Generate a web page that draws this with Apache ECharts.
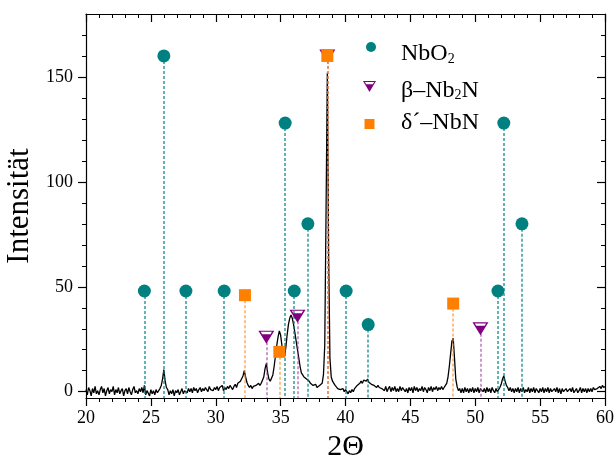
<!DOCTYPE html>
<html><head><meta charset="utf-8">
<script src="https://cdn.jsdelivr.net/npm/echarts@6/dist/echarts.min.js"></script>
<style>html,body{margin:0;padding:0;background:#fff}#c{width:614px;height:459px}</style>
</head><body><div id="c"></div><script>
// ---- data ----
const angleStart = 20;
const angleStep = 0.1;
const intensity = [
  1, -1.5, 2, 0.5, -2, 1.5, -0.5, 2.5, -1, 0.5,
  -1.5, 1, 2.5, -0.5, 1.5, -2, 0.5, 2, -1, 1,
  0, 2.5, -1.5, 1, -0.5, 2, -1, 0.5, 1.5, -2,
  0.5, 1.5, -1, 2, 0, -1.5, 1, 2.5, -0.5, 0.5,
  -1, 1.5, 0, 2, -0.5, 3, -1.5, 0.5, 1, -2,
  1, -1, 0.5, -1.5, 1, -0.5, 0, 1.5, 3, 6,
  10.5, 5, 2, 1, -1.5, 0.5, -1, 1, -2, 0.5,
  -0.5, 1, -1.5, 0, 1.5, -1, 0.5, 1, -0.5, 1.5,
  0, 1.5, -0.5, 2, 0.5, 1.5, -0.5, 1, 2, 0,
  1.5, 0.5, 2, 1, 0, 2.5, 1, 1.5, 0.5, 2,
  1, 2.5, 0.5, 2, 1.5, 3, 0.5, 2, 1, 2.5,
  1.5, 3, 2, 1, 2.5, 3.5, 2, 4, 4.5, 5,
  5.5, 7.5, 10, 7, 4.5, 3, 2, 3, 1.5, 2.5,
  2, 3, 2.5, 4, 3, 4, 5.5, 7, 11, 13.5,
  9, 6, 5, 5.5, 8, 12, 17, 22, 26, 29,
  27, 22, 18, 17, 21, 27, 32, 35, 36.5, 35,
  32, 28, 24, 20, 16, 12, 9, 8, 7, 7.5,
  6, 6.5, 5, 4, 4.5, 3, 2.5, 3.5, 2, 2.5,
  3, 2.5, 4, 8, 22, 85, 152, 65, 16, 7,
  5, 4, 3, 2.5, 1.5, 2, 1, 0.5, 1.5, 0,
  1, 0, -1, 0.5, -0.5, 1, 0, 1.5, 2, 3,
  2.5, 4, 5, 4, 5.5, 6, 5, 6, 4.5, 5,
  3.5, 4, 3, 3.5, 2, 3, 2, 2.5, 1.5, 2,
  0.5, 2.5, 0, 1.5, 2.5, 0, 2, 0.5, 2.5, 0,
  1.5, 0, 2.5, 0.5, 2, 2.5, 0, 1.5, -0.5, 2,
  0.5, 2, -0.5, 2.5, 0.5, 2, 0, 1.5, 0.5, 2.5,
  0, 2, 1, -0.5, 2, 0.5, 2.5, 0, 2, 1,
  2.5, 0.5, 2, 1, 2.5, 1, 2, 3, 4, 7,
  12, 18, 24, 25.5, 16, 6, 2.5, 0.5, 1.5, -0.5,
  1.5, -0.5, 2, 0, 1.5, -0.5, 1.5, 0, 2, -0.5,
  1.5, 0, 2, -0.5, 1.5, 2, 0, 1.5, -0.5, 2,
  0, 1.5, -0.5, 2, 0.5, -0.5, 1.5, 0, 1, 2,
  3.5, 6, 7.5, 5, 3, 2, 0.5, 2, 0, 1.5,
  -0.5, 1.5, 0, 2, -0.5, 1.5, 0, 2, -0.5, 1,
  0, 2, -0.5, 1.5, 0, 2, -0.5, 1.5, 0.5, -0.5,
  1.5, 0, 2, -0.5, 1.5, 0, 2, -0.5, 1.5, 0,
  -0.5, 1.5, 0, 2, -0.5, 1.5, -1, 1.5, 0, -0.5,
  1.5, 0, -0.5, 1.5, 0, 2, -0.5, 0.5, 1.5, -0.5,
  0.5, 2, -0.5, 1.5, 0, 1.5, -0.5, 1.5, 0, 1.5,
  0, 2, 1, 0.5, 1.5, 2, 2.5, 1.5, 3, 2,
  2.5
];
const nbo2X = [24.5, 26.0, 27.7, 30.65, 35.35, 36.05, 37.1, 40.05, 41.75, 51.75, 52.2, 53.6];
const nbo2Y = [48, 160, 48, 48, 128, 48, 80, 48, 32, 48, 128, 80];
const nb2nX = [33.9, 36.3, 38.6, 50.4];
const nb2nY = [26, 36, 160, 30];
const nbnX = [32.25, 34.9, 38.6, 48.3];
const nbnY = [46, 19, 160, 42];
const xTicks = [20, 25, 30, 35, 40, 45, 50, 55, 60];
const yMajor = [0, 50, 100, 150];
const yMinor = [10, 20, 30, 40, 60, 70, 80, 90, 110, 120, 130, 140, 160, 170];

// ---- chart ----
const FONT = "'Liberation Serif','Times New Roman',serif";
const yMin = -3, yMax = 180;
const trace = intensity.map((v, i) => [+(angleStart + i * angleStep).toFixed(2), v]);
const pair = (xs, ys) => xs.map((x, i) => [x, ys[i]]);
const drops = (xs, ys) => xs.map((x, i) => [{coord: [x, ys[i]]}, {coord: [x, yMin]}]);
const TRI = 'path://M0,0L10,0L5,9Z M1.5,0.8L2.4,2.5L7.6,2.5L8.5,0.8Z';
const axisLineStyle = {color: '#000', width: 1.2};

function markerSeries(name, xs, ys, symbol, size, color, lineColor) {
  return {
    name, type: 'scatter', data: pair(xs, ys), symbol, symbolSize: size,
    itemStyle: {color, opacity: 1}, z: 10, silent: true, animation: false,
    markLine: {
      silent: true, symbol: ['none', 'none'], label: {show: false}, z: 3,
      animation: false,
      lineStyle: {color: lineColor, width: 1.5, type: [3, 2]},
      emphasis: {disabled: true},
      data: drops(xs, ys)
    }
  };
}

const chart = echarts.init(document.getElementById('c'), null, {renderer: 'canvas'});
chart.setOption({
  animation: false,
  backgroundColor: '#fff',
  grid: {left: 86, right: 9, top: 14, bottom: 61, containLabel: false, outerBoundsMode: 'none'},
  xAxis: [
    {
      type: 'value', position: 'bottom', min: xTicks[0], max: xTicks[xTicks.length - 1], interval: 5,
      axisLine: {show: true, onZero: false, lineStyle: axisLineStyle},
      axisTick: {show: true, length: 8, lineStyle: axisLineStyle},
      minorTick: {show: true, splitNumber: 5, length: 4, lineStyle: {color: '#000', width: 1}},
      axisLabel: {fontFamily: FONT, fontSize: 18, color: '#000', margin: 11},
      splitLine: {show: false}, minorSplitLine: {show: false},
      name: '2Θ', nameLocation: 'middle', nameGap: 33,
      nameTextStyle: {fontFamily: FONT, fontSize: 30, color: '#000'}
    },
    {
      type: 'value', position: 'top', min: xTicks[0], max: xTicks[xTicks.length - 1], interval: 5,
      axisLine: {show: true, onZero: false, lineStyle: axisLineStyle},
      axisTick: {show: true, inside: true, length: 8, lineStyle: axisLineStyle},
      minorTick: {show: true, splitNumber: 5, length: 4, lineStyle: {color: '#000', width: 1}},
      axisLabel: {show: false}, splitLine: {show: false}
    }
  ],
  yAxis: [
    {
      type: 'value', position: 'left', min: yMin, max: yMax,
      axisLine: {show: true, onZero: false, lineStyle: axisLineStyle},
      axisTick: {show: true, length: 8, customValues: yMajor, lineStyle: axisLineStyle},
      axisLabel: {customValues: yMajor, fontFamily: FONT, fontSize: 18, color: '#000', margin: 13},
      splitLine: {show: false},
      name: 'Intensität', nameLocation: 'middle', nameGap: 41,
      nameTextStyle: {fontFamily: FONT, fontSize: 31, color: '#000'}
    },
    {
      type: 'value', position: 'left', min: yMin, max: yMax,
      axisLine: {show: false},
      axisTick: {show: true, length: 4, customValues: yMinor, lineStyle: {color: '#000', width: 1}},
      axisLabel: {show: false}, splitLine: {show: false}
    },
    {
      type: 'value', position: 'right', min: yMin, max: yMax,
      axisLine: {show: true, onZero: false, lineStyle: axisLineStyle},
      axisTick: {show: true, inside: true, length: 8, customValues: yMajor, lineStyle: axisLineStyle},
      axisLabel: {show: false}, splitLine: {show: false}
    },
    {
      type: 'value', position: 'right', min: yMin, max: yMax,
      axisLine: {show: false},
      axisTick: {show: true, inside: true, length: 4, customValues: yMinor, lineStyle: {color: '#000', width: 1}},
      axisLabel: {show: false}, splitLine: {show: false}
    }
  ],
  series: [
    {
      name: 'XRD', type: 'line', data: trace, showSymbol: false, symbol: 'none',
      lineStyle: {color: '#000', width: 1.3}, z: 2, silent: true, animation: false
    },
    markerSeries('NbO2', nbo2X, nbo2Y, 'circle', 13, '#008080', 'rgba(0,128,128,0.8)'),
    markerSeries('β-Nb2N', nb2nX, nb2nY, TRI, [16, 13], '#800080', 'rgba(160,60,160,0.7)'),
    markerSeries('δ´-NbN', nbnX, nbnY, 'rect', 12, '#ff8000', 'rgba(255,140,30,0.75)')
  ],
  graphic: [
    {type: 'circle', shape: {cx: 371, cy: 47, r: 5}, style: {fill: '#008080'}, z: 20},
    {type: 'polygon', shape: {points: [[363, 81], [376, 81], [369.5, 92]]}, style: {fill: '#800080'}, z: 20},
    {type: 'polygon', shape: {points: [[364.9, 82.1], [366.3, 84.2], [372.7, 84.2], [374.1, 82.1]]}, style: {fill: '#fff'}, z: 21},
    {type: 'rect', shape: {x: 364.5, y: 119, width: 10, height: 10}, style: {fill: '#ff8000'}, z: 20},
    {type: 'text', x: 401, y: 49.5, z: 20, style: {
      text: '{m|NbO}{s|2}', verticalAlign: 'middle', align: 'left',
      rich: {m: {fontFamily: FONT, fontSize: 24, lineHeight: 33, verticalAlign: 'bottom', fill: '#000'},
             s: {fontFamily: FONT, fontSize: 14, lineHeight: 14, verticalAlign: 'bottom', fill: '#000'}}
    }},
    {type: 'text', x: 401, y: 86, z: 20, style: {
      text: '{m|β–Nb}{s|2}{m|N}', verticalAlign: 'middle', align: 'left',
      rich: {m: {fontFamily: FONT, fontSize: 24, lineHeight: 33, verticalAlign: 'bottom', fill: '#000'},
             s: {fontFamily: FONT, fontSize: 14, lineHeight: 14, verticalAlign: 'bottom', fill: '#000'}}
    }},
    {type: 'text', x: 401, y: 123, z: 20, style: {
      text: 'δ´–NbN', verticalAlign: 'middle', align: 'left',
      fontFamily: FONT, fontSize: 24, fill: '#000'
    }}
  ]
});
</script></body></html>
